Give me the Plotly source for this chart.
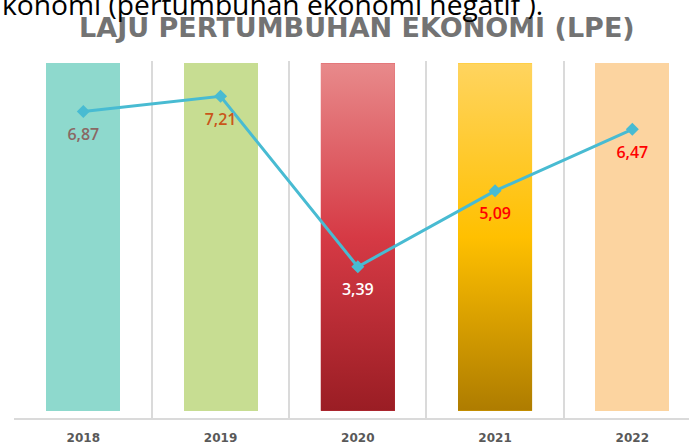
"""
Laju Pertumbuhan Ekonomi (LPE) 2018-2022: full-height coloured columns
with the growth line drawn over them.
"""

import plotly.graph_objects as go

# ---------------------------------------------------------------------------
# Data
# ---------------------------------------------------------------------------
YEARS = ["2018", "2019", "2020", "2021", "2022"]
LPE = [6.87, 7.21, 3.39, 5.09, 6.47]

# background columns (decorative, same height for every year)
COLUMN_TOP = [7.95, 7.95, 7.95, 7.95, 7.95]

COLUMN_COLORS = ["#8ED9CD", "#C7DD92", "#D9404A", "#FFC000", "#FCD4A0"]
LABEL_COLORS = ["#8A6864", "#C9561A", "#FFFFFF", "#FF0000", "#FF0000"]

# vertical gradients (bottom -> top) for the highlighted years
GRADIENTS = {
    "2020": [[0, "#9A1D24"], [0.5, "#D63A45"], [1, "#E88A8B"]],
    "2021": [[0, "#AE7C00"], [0.5, "#FFC000"], [1, "#FFD45F"]],
}

TITLE = "LAJU PERTUMBUHAN EKONOMI (LPE)"
CAPTION = "konomi (pertumbuhan ekonomi negatif )."

# ---------------------------------------------------------------------------
# Style
# ---------------------------------------------------------------------------
W, H = 689, 445
M_L, M_R, M_T, M_B = 14, 0, 61, 27
BAR_WIDTH = 0.54
BAR_BASE = 0.16
GRID = "#DADADA"
LINE = "#48BBD2"

x_pos = list(range(len(YEARS)))
plot_w = W - M_L - M_R
plot_h = H - M_T - M_B
x_min = -0.505
x_max = x_min + plot_w / 137.25  # right-hand column is clipped in the original

fig = go.Figure()

fig.add_trace(go.Bar(
    x=x_pos,
    y=[t - BAR_BASE for t in COLUMN_TOP],
    base=BAR_BASE,
    width=BAR_WIDTH,
    marker=dict(color=COLUMN_COLORS, line=dict(width=0)),
    hoverinfo="skip",
    showlegend=False,
))

# gradient overlay for the highlighted columns
for i, year in enumerate(YEARS):
    if year not in GRADIENTS:
        continue
    x0, x1 = x_pos[i] - BAR_WIDTH / 2, x_pos[i] + BAR_WIDTH / 2
    fig.add_trace(go.Scatter(
        x=[x0, x1, x1, x0, x0],
        y=[BAR_BASE, BAR_BASE, COLUMN_TOP[i], COLUMN_TOP[i], BAR_BASE],
        mode="lines",
        line=dict(width=0),
        fill="toself",
        fillgradient=dict(type="vertical", colorscale=GRADIENTS[year]),
        hoverinfo="skip",
        showlegend=False,
    ))

fig.add_trace(go.Scatter(
    x=x_pos,
    y=LPE,
    mode="lines+markers",
    line=dict(color=LINE, width=3),
    marker=dict(symbol="diamond", size=10, color=LINE),
    showlegend=False,
))

# value labels sit a little further below the points than plotly's default
fig.add_trace(go.Scatter(
    x=x_pos,
    y=LPE,
    mode="markers+text",
    marker=dict(size=25, opacity=0),
    text=[f"{v:.2f}".replace(".", ",") for v in LPE],
    textposition="bottom center",
    textfont=dict(family="Open Sans", size=16, color=LABEL_COLORS, weight=600),
    hoverinfo="skip",
    showlegend=False,
))

fig.update_layout(
    width=W,
    height=H,
    margin=dict(l=M_L, r=M_R, t=M_T, b=M_B),
    plot_bgcolor="white",
    paper_bgcolor="white",
    bargap=0,
    title=dict(
        text=TITLE,
        x=0.518,
        xanchor="center",
        xref="container",
        y=1 - 28 / H,
        yanchor="middle",
        yref="container",
        font=dict(family="DejaVu Sans", size=27, color="#737373", weight=700),
    ),
    annotations=[dict(
        text=CAPTION,
        xref="paper",
        yref="paper",
        x=-M_L / plot_w,
        y=1 + (M_T - 4) / plot_h,
        xanchor="left",
        yanchor="middle",
        showarrow=False,
        font=dict(family="Open Sans", size=28.2, color="#000000"),
    )],
)

fig.update_xaxes(
    range=[x_min, x_max],
    tickmode="array",
    tickvals=x_pos,
    ticktext=YEARS,
    showgrid=False,
    minor=dict(tick0=-0.5, dtick=1, showgrid=True, gridcolor=GRID, gridwidth=1.5),
    showline=True,
    linecolor=GRID,
    linewidth=1.5,
    ticks="",
    ticklabelstandoff=8,
    tickfont=dict(family="DejaVu Sans", size=12, color="#595959", weight=700),
    zeroline=False,
)
fig.update_yaxes(
    range=[0, 8],
    visible=False,
    showgrid=False,
    zeroline=False,
)

# the page is photographed from its top-left corner, so drop the body margin
fig.write_html(
    "out.html",
    config={"displayModeBar": False},
    post_script="document.body.style.margin = '0';",
)
